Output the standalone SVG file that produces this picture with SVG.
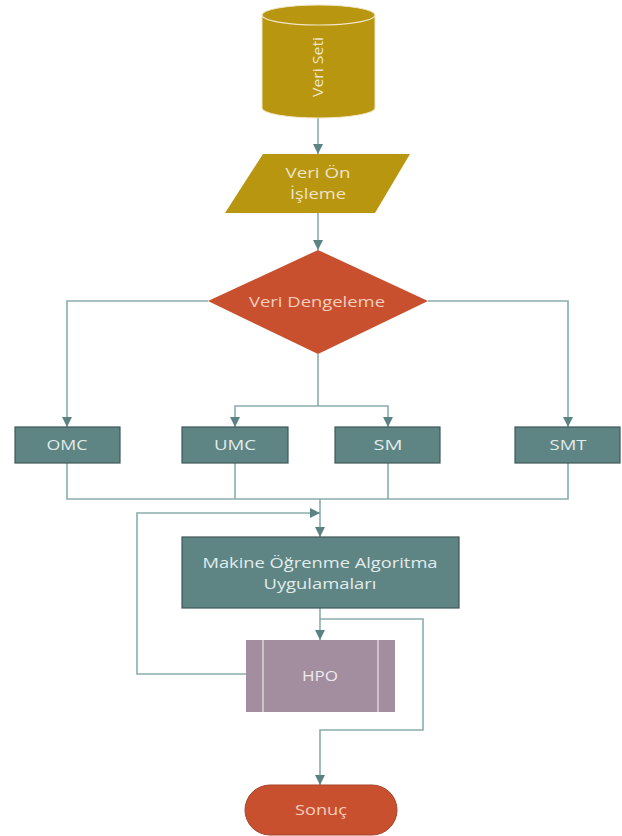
<svg xmlns="http://www.w3.org/2000/svg" width="622" height="836" viewBox="0 0 622 836">
<style>
.t{font-family:"Open Sans","Liberation Sans",sans-serif;font-size:15px;text-anchor:middle}
.gold{fill:#B8960F}
.teal{fill:#5E8483;stroke:#3F5857;stroke-width:1.2}
.red{fill:#C8502F}
.c{fill:none;stroke:#8AACAC;stroke-width:1.6}
.lt{fill:#EEE4C8}
.wt{fill:#E2ECEC}
.pk{fill:#F6CDBC}
</style>
<defs>
<marker id="ah" viewBox="0 0 10 10" refX="10" refY="5" markerWidth="10" markerHeight="10" markerUnits="userSpaceOnUse" orient="auto">
<path d="M0,0 L10,5 L0,10 Z" fill="#5A8382"/>
</marker>
</defs>
<rect width="622" height="836" fill="#FFFFFF"/>
<g id="connectors">
<path class="c" d="M318,118 V154" marker-end="url(#ah)"/>
<path class="c" d="M318,213 V250" marker-end="url(#ah)"/>
<path class="c" d="M208,301 H67 V427" marker-end="url(#ah)"/>
<path class="c" d="M428,301 H568 V427" marker-end="url(#ah)"/>
<path class="c" d="M318,354 V406"/>
<path class="c" d="M318,406 H235 V427" marker-end="url(#ah)"/>
<path class="c" d="M318,406 H388 V427" marker-end="url(#ah)"/>
<path class="c" d="M67,463 V499 H568 V463"/>
<path class="c" d="M235,463 V499"/>
<path class="c" d="M388,463 V499"/>
<path class="c" d="M320,499 V537" marker-end="url(#ah)"/>
<path class="c" d="M246,674 H137 V513 H320" marker-end="url(#ah)"/>
<path class="c" d="M320,608 V640" marker-end="url(#ah)"/>
<path class="c" d="M320,619 H423 V730 H320 V785" marker-end="url(#ah)"/>
</g>
<g id="veri-seti">
<path class="gold" d="M262,15 A56.5,10 0 0 1 375,15 L375,108 A56.5,10 0 0 1 262,108 Z" stroke="#F0E6C6" stroke-width="1"/>
<path d="M262,15 A56.5,10 0 0 0 375,15" fill="none" stroke="#F0E6C6" stroke-width="1.2"/>
<text class="t lt" transform="translate(323,67) rotate(-90)" textLength="60" lengthAdjust="spacingAndGlyphs">Veri Seti</text>
</g>
<g id="veri-on-isleme">
<path class="gold" d="M263,154 H410 L375,213 H225 Z"/>
<text class="t lt" x="318" y="178" textLength="65" lengthAdjust="spacingAndGlyphs">Veri Ön</text>
<text class="t lt" x="318" y="199" textLength="56" lengthAdjust="spacingAndGlyphs">İşleme</text>
</g>
<g id="veri-dengeleme">
<path class="red" d="M318,250 L428,301 L318,354 L208,301 Z"/>
<text class="t pk" x="317" y="307" textLength="136" lengthAdjust="spacingAndGlyphs">Veri Dengeleme</text>
</g>
<g id="omc">
<rect class="teal" x="15" y="427" width="105" height="36"/>
<text class="t wt" x="67" y="450" textLength="41" lengthAdjust="spacingAndGlyphs">OMC</text>
</g>
<g id="umc">
<rect class="teal" x="182" y="427" width="106" height="36"/>
<text class="t wt" x="235" y="450" textLength="42" lengthAdjust="spacingAndGlyphs">UMC</text>
</g>
<g id="sm">
<rect class="teal" x="335" y="427" width="105" height="36"/>
<text class="t wt" x="388" y="450" textLength="29" lengthAdjust="spacingAndGlyphs">SM</text>
</g>
<g id="smt">
<rect class="teal" x="515" y="427" width="105" height="36"/>
<text class="t wt" x="568" y="450" textLength="37" lengthAdjust="spacingAndGlyphs">SMT</text>
</g>
<g id="makine">
<rect class="teal" x="182" y="537" width="277" height="71"/>
<text class="t wt" x="320" y="568" textLength="235" lengthAdjust="spacingAndGlyphs">Makine Öğrenme Algoritma</text>
<text class="t wt" x="320" y="589" textLength="113" lengthAdjust="spacingAndGlyphs">Uygulamaları</text>
</g>
<g id="hpo">
<rect x="246" y="640" width="149" height="72" fill="#A28E9F"/>
<line x1="263" y1="640" x2="263" y2="712" stroke="#EDE6EC" stroke-width="1.2"/>
<line x1="378" y1="640" x2="378" y2="712" stroke="#EDE6EC" stroke-width="1.2"/>
<text class="t" x="320" y="681" fill="#F1EAF0" textLength="36" lengthAdjust="spacingAndGlyphs">HPO</text>
</g>
<g id="sonuc">
<rect class="red" x="245" y="785" width="152" height="50" rx="25" ry="25" stroke="#A6432A" stroke-width="1"/>
<text class="t pk" x="321" y="815" textLength="52" lengthAdjust="spacingAndGlyphs">Sonuç</text>
</g>
</svg>
